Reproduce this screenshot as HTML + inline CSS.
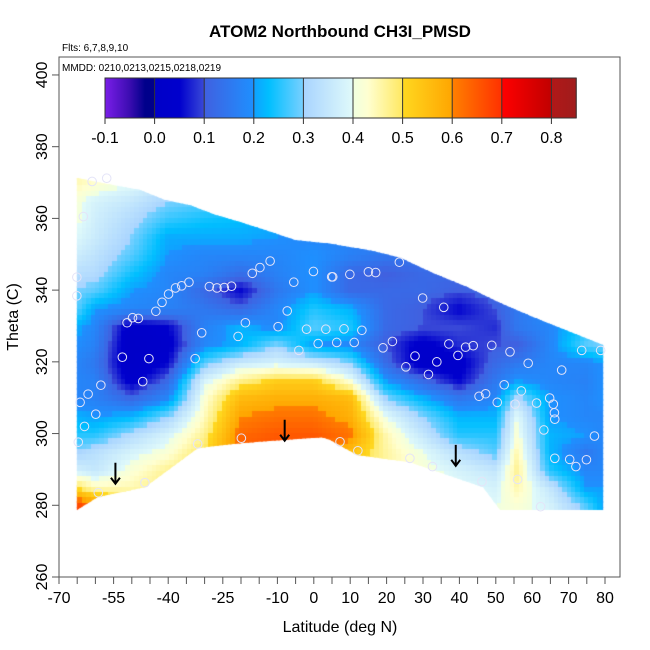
<!DOCTYPE html>
<html><head><meta charset="utf-8"><style>
html,body{margin:0;padding:0;background:#fff;width:650px;height:650px;overflow:hidden}
#hm{position:absolute;left:0;top:0}
#ov{position:absolute;left:0;top:0}
text{font-family:"Liberation Sans",Arial,sans-serif}
</style></head><body>
<canvas id="hm" width="650" height="650"></canvas>
<svg id="ov" width="650" height="650">
<text x="340" y="37" text-anchor="middle" font-size="17" font-weight="bold">ATOM2 Northbound CH3I_PMSD</text>
<text x="62" y="51" font-size="10">Flts: 6,7,8,9,10</text>
<text x="62" y="71" font-size="10">MMDD: 0210,0213,0215,0218,0219</text>
<g id="cbar"></g>
<g id="pts"></g>
<g id="arrows"></g>
<rect x="59" y="57" width="561" height="520" fill="none" stroke="#555" stroke-width="1"/>
<g id="xax"></g>
<g id="yax"></g>
<text x="340" y="632" text-anchor="middle" font-size="16">Latitude (deg N)</text>
<text transform="translate(18,317) rotate(-90)" text-anchor="middle" font-size="16">Theta (C)</text>
</svg>
<script>
const lats=[-66,-60,-50,-40,-30,-20,-10,0,10,20,30,40,50,56,65,75,80];
const thetas=[280,285,290,295,300,305,310,315,320,325,330,335,340,345,350,355,360,365,370];
const grid=[
[0.7,0.62,0.55,0.5,0.5,0.62,0.64,0.64,0.55,0.48,0.42,0.4,0.4,0.42,0.38,0.28,0.2],
[0.52,0.45,0.45,0.48,0.52,0.64,0.66,0.66,0.56,0.48,0.42,0.4,0.38,0.45,0.35,0.2,0.2],
[0.38,0.35,0.42,0.47,0.5,0.64,0.66,0.66,0.54,0.46,0.42,0.38,0.35,0.47,0.25,0.18,0.18],
[0.3,0.33,0.38,0.42,0.5,0.64,0.66,0.66,0.55,0.46,0.4,0.33,0.28,0.45,0.22,0.15,0.18],
[0.25,0.25,0.32,0.38,0.47,0.63,0.65,0.65,0.62,0.45,0.35,0.25,0.25,0.42,0.22,0.2,0.18],
[0.22,0.2,0.22,0.3,0.44,0.6,0.62,0.62,0.58,0.4,0.3,0.22,0.22,0.4,0.2,0.18,0.18],
[0.18,0.17,0.12,0.18,0.42,0.56,0.58,0.58,0.56,0.3,0.22,0.15,0.18,0.32,0.2,0.18,0.2],
[0.18,0.17,0.03,0.12,0.38,0.47,0.52,0.52,0.42,0.2,0.12,0.05,0.15,0.2,0.18,0.17,0.2],
[0.18,0.15,0.0,0.05,0.28,0.36,0.38,0.36,0.3,0.12,0.02,0.03,0.12,0.15,0.18,0.18,0.2],
[0.2,0.17,0.0,0.03,0.18,0.22,0.3,0.2,0.18,0.1,0.03,0.08,0.1,0.1,0.18,0.28,0.3],
[0.22,0.18,0.02,0.05,0.17,0.22,0.18,0.28,0.25,0.12,0.1,0.1,0.08,0.15,0.18,0.25,0.3],
[0.3,0.2,0.18,0.17,0.15,0.12,0.18,0.25,0.22,0.12,0.1,0.05,0.1,0.15,0.2,0.25,0.3],
[0.3,0.28,0.2,0.18,0.12,0.05,0.15,0.2,0.12,0.12,0.12,0.1,0.12,0.15,0.2,0.25,0.3],
[0.33,0.32,0.24,0.18,0.17,0.13,0.17,0.2,0.12,0.1,0.12,0.12,0.12,0.15,0.2,0.25,0.3],
[0.37,0.34,0.28,0.2,0.18,0.18,0.18,0.2,0.17,0.15,0.14,0.14,0.14,0.15,0.2,0.25,0.3],
[0.4,0.36,0.3,0.21,0.21,0.21,0.2,0.18,0.17,0.16,0.15,0.15,0.15,0.15,0.2,0.25,0.3],
[0.42,0.37,0.32,0.26,0.24,0.23,0.21,0.2,0.18,0.17,0.16,0.16,0.16,0.16,0.2,0.25,0.3],
[0.42,0.38,0.35,0.3,0.28,0.27,0.25,0.22,0.2,0.18,0.17,0.17,0.17,0.17,0.2,0.25,0.3],
[0.45,0.43,0.4,0.35,0.32,0.3,0.28,0.25,0.22,0.2,0.18,0.18,0.18,0.18,0.2,0.25,0.3]];
const topLat=[-65.1,-55.2,-47.7,-40.9,-34,-27.1,-20.3,-13.4,-5.2,4.5,16.3,23.7,32.7,42.1,51.2,60.2,69.8,79.5];
const topTheta=[371.3,369.3,367.9,365.1,363.7,361,359,356.8,354,352.9,350.9,349,344.8,340.9,336.4,332.5,328.6,324.7];
const botLat=[79.5,51.2,46.5,26.4,11.9,4.5,2.3,-19.7,-31.8,-46.4,-59.3,-65.1];
const botTheta=[278.7,278.7,285,292,294,298.2,299,297.4,296,285,282.3,278.7];
const ptLat=[-60.9,-56.9,-63.3,-65.1,-65.1,-12.0,-14.8,-16.9,-34.3,-36.3,-38.0,-39.9,-41.7,-43.4,-48.2,-49.8,-51.3,-28.7,-26.6,-24.6,-22.6,-5.5,-0.1,4.9,-7.3,-18.8,-20.8,-9.8,-2.0,3.3,1.2,-4.1,-30.8,-52.6,-45.3,-32.6,-47.0,-58.5,-62.0,-64.2,-59.9,-63.0,-64.7,-31.9,-19.9,-46.4,-59.2,
23.5,9.9,15.0,17.0,5.2,29.9,35.7,8.3,13.2,6.3,11.1,19.0,21.6,37.1,41.7,43.8,48.9,53.9,27.8,33.8,25.3,39.6,31.5,58.9,68.1,73.6,78.8,52.3,57.0,47.2,45.4,50.4,55.3,61.2,64.8,65.8,66.1,66.2,63.2,77.1,7.2,12.1,26.4,32.6,46.2,56.0,62.3,66.2,70.3,72.0,74.9];
const ptTheta=[370.3,371.2,360.5,343.6,338.4,348.1,346.3,344.7,342.2,341.2,340.6,338.9,336.6,334.1,332.1,332.3,330.9,341.0,340.6,340.7,341.1,342.2,345.2,343.7,334.2,330.9,327.1,329.8,329.1,329.1,325.1,323.2,328.1,321.3,320.9,320.9,314.5,313.5,311.0,308.7,305.4,302.0,297.6,297.1,298.7,286.3,283.5,
347.8,344.4,345.1,344.9,343.7,337.8,335.2,329.2,328.8,325.4,325.4,323.9,325.7,325.0,324.1,324.5,324.6,322.8,321.6,320.0,318.6,321.8,316.5,319.6,317.7,323.2,323.2,313.6,311.9,311.1,310.4,308.7,308.2,308.5,309.9,308.2,305.8,304.0,301.0,299.3,297.7,295.2,293.1,290.8,286.6,287.2,279.6,293.1,292.8,290.8,292.7];
const arrowLat=[-54.5,-8,39];
const arrowTheta=[286,298,291];
const cbTicks=[-0.1,0.0,0.1,0.2,0.3,0.4,0.5,0.6,0.7,0.8];
const cbSegs=[
[-0.1,"#7a1ee8",-0.05,"#3a0cb0"],[-0.05,"#3a0cb0",-0.02,"#00008b"],[-0.02,"#00008b",0.0,"#00008b"],
[0.0,"#0000c8",0.05,"#0000cd"],[0.05,"#0000cd",0.1,"#3a4ad8"],
[0.1,"#4060e0",0.2,"#1e90ff"],
[0.2,"#10a0ff",0.23,"#00bfff"],[0.23,"#00bfff",0.3,"#7ad0ff"],
[0.3,"#a8d4ff",0.4,"#e0fafa"],
[0.4,"#f0ffe0",0.43,"#ffffd0"],[0.43,"#ffffd0",0.5,"#ffe860"],
[0.5,"#ffd820",0.6,"#ffa500"],
[0.6,"#ff8000",0.7,"#ff3000"],
[0.7,"#ff0000",0.8,"#c00000"],
[0.8,"#b01818",0.85,"#a01c1c"]];

const X=l=>59+(l+70)*3.64;
const Y=t=>577-(t-260)*3.586;
const CX=v=>105+(v+0.1)*496;
const NS="http://www.w3.org/2000/svg";
function hex(c){return [parseInt(c.slice(1,3),16),parseInt(c.slice(3,5),16),parseInt(c.slice(5,7),16)];}
function col(v){
  v=Math.max(-0.1,Math.min(0.849,v));
  for(const s of cbSegs){ if(v>=s[0]&&v<s[2]){const f=(v-s[0])/(s[2]-s[0]);const a=hex(s[1]),b=hex(s[3]);return `rgb(${Math.round(a[0]+(b[0]-a[0])*f)},${Math.round(a[1]+(b[1]-a[1])*f)},${Math.round(a[2]+(b[2]-a[2])*f)})`;}}
  return "#a01c1c";
}
function val(la,th){
  let i=0;while(i<lats.length-2&&la>lats[i+1])i++;
  let j=0;while(j<thetas.length-2&&th>thetas[j+1])j++;
  let fx=(la-lats[i])/(lats[i+1]-lats[i]);fx=Math.max(0,Math.min(1,fx));
  let fy=(th-thetas[j])/(thetas[j+1]-thetas[j]);fy=Math.max(0,Math.min(1,fy));
  const a=grid[j][i],b=grid[j][i+1],c=grid[j+1][i],d=grid[j+1][i+1];
  return (a*(1-fx)+b*fx)*(1-fy)+(c*(1-fx)+d*fx)*fy;
}
// heatmap
const ctx=document.getElementById('hm').getContext('2d');
ctx.save();ctx.beginPath();
topLat.forEach((l,k)=>{k?ctx.lineTo(X(l),Y(topTheta[k])):ctx.moveTo(X(l),Y(topTheta[k]));});
botLat.forEach((l,k)=>ctx.lineTo(X(l),Y(botTheta[k])));
ctx.closePath();ctx.clip();
for(let la=-66;la<=80;la+=1.2){
  for(let th=278;th<=372;th+=1.5){
    ctx.fillStyle=col(val(la+0.6,th+0.75));
    ctx.fillRect(Math.floor(X(la)),Math.floor(Y(th+1.5)),6,7);
  }
}
ctx.restore();
// colorbar
const cb=document.getElementById('cbar');
const defs=document.createElementNS(NS,'defs');cb.appendChild(defs);
cbSegs.forEach((s,k)=>{
  const g=document.createElementNS(NS,'linearGradient');g.setAttribute('id','g'+k);
  g.innerHTML=`<stop offset="0" stop-color="${s[1]}"/><stop offset="1" stop-color="${s[3]}"/>`;
  defs.appendChild(g);
  const r=document.createElementNS(NS,'rect');
  
  
  r.setAttribute('x',CX(s[0]));r.setAttribute('width',CX(s[2])-CX(s[0])+0.5);
  r.setAttribute('y',78);r.setAttribute('height',40);r.setAttribute('fill',`url(#g${k})`);
  cb.appendChild(r);
});
cbTicks.forEach(v=>{
  const l=document.createElementNS(NS,'line');
  
  
  l.setAttribute('x1',CX(v));l.setAttribute('x2',CX(v));l.setAttribute('y1',78);l.setAttribute('y2',124);
  l.setAttribute('stroke','#333');l.setAttribute('stroke-width','1');cb.appendChild(l);
  const t=document.createElementNS(NS,'text');
  
  
  t.setAttribute('x',CX(v));t.setAttribute('y',143);t.setAttribute('text-anchor','middle');t.setAttribute('font-size','16');
  t.textContent=v.toFixed(1);cb.appendChild(t);
});
const fr=document.createElementNS(NS,'rect');


fr.setAttribute('x',105);fr.setAttribute('y',78);fr.setAttribute('width',CX(0.85)-105);fr.setAttribute('height',40);
fr.setAttribute('fill','none');fr.setAttribute('stroke','#333');cb.appendChild(fr);
// points
const pg=document.getElementById('pts');
ptLat.forEach((l,k)=>{
  const c=document.createElementNS(NS,'circle');
  
  
  c.setAttribute('cx',X(l));c.setAttribute('cy',Y(ptTheta[k]));c.setAttribute('r',4.3);
  c.setAttribute('fill','none');c.setAttribute('stroke','#e4e4f8');c.setAttribute('stroke-width','1');
  pg.appendChild(c);
});
// arrows
const ag=document.getElementById('arrows');
arrowLat.forEach((l,k)=>{
  const x=X(l),y=Y(arrowTheta[k]);
  const p=document.createElementNS(NS,'path');
  
  
  p.setAttribute('d',`M${x},${y-21}L${x},${y}M${x-4.5},${y-6}L${x},${y}L${x+4.5},${y-6}`);
  p.setAttribute('stroke','#000');p.setAttribute('stroke-width','2');p.setAttribute('fill','none');
  ag.appendChild(p);
});
// x axis
const xTickVals=[];for(let v=-70;v<=80;v+=5)xTickVals.push(v);
const xLabelVals=[-70,-55,-40,-25,-10,0,10,20,30,40,50,60,70,80];
const xa=document.getElementById('xax');
xTickVals.forEach(v=>{
  const l=document.createElementNS(NS,'line');
  
  
  l.setAttribute('x1',X(v));l.setAttribute('x2',X(v));l.setAttribute('y1',577);l.setAttribute('y2',584);
  l.setAttribute('stroke','#555');xa.appendChild(l);
});
xLabelVals.forEach(v=>{
  const t=document.createElementNS(NS,'text');
  
  
  t.setAttribute('x',X(v));t.setAttribute('y',603);t.setAttribute('text-anchor','middle');t.setAttribute('font-size','16');
  t.textContent=v;xa.appendChild(t);
});
// y axis
const yLabelVals=[260,280,300,320,340,360,380,400];
const ya=document.getElementById('yax');
yLabelVals.forEach(v=>{
  const l=document.createElementNS(NS,'line');
  
  
  l.setAttribute('x1',52);l.setAttribute('x2',59);l.setAttribute('y1',Y(v));l.setAttribute('y2',Y(v));
  l.setAttribute('stroke','#555');ya.appendChild(l);
  const t=document.createElementNS(NS,'text');
  
  
  t.setAttribute('transform',`translate(47,${Y(v)}) rotate(-90)`);t.setAttribute('text-anchor','middle');t.setAttribute('font-size','16');
  t.textContent=v;ya.appendChild(t);
});
</script>
</body></html>
